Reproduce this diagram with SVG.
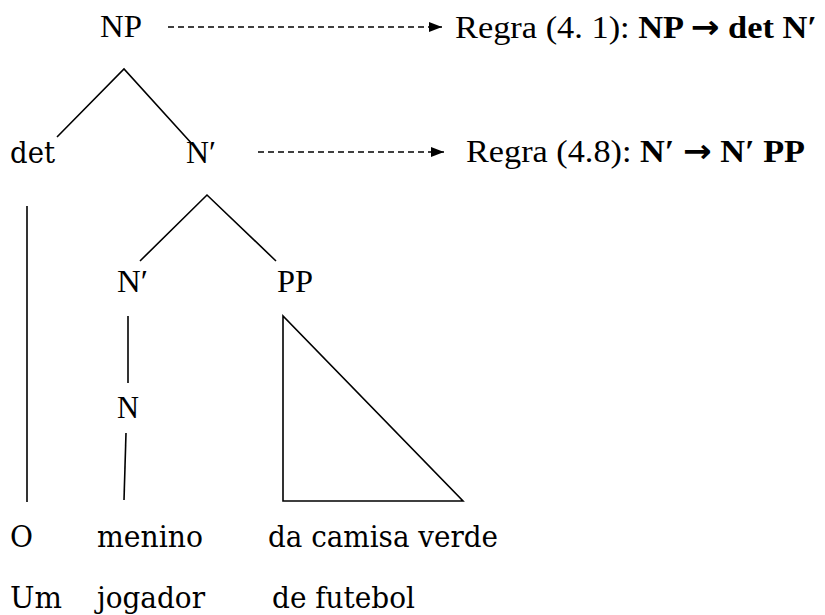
<svg xmlns="http://www.w3.org/2000/svg" width="825" height="615" viewBox="0 0 825 615">
<defs>
<style>
text{font-family:'Liberation Serif','Times New Roman',serif;font-size:32px;fill:#000}
.pal{font-family:'DejaVu Serif',serif;font-size:29px}
.b{font-weight:bold}
.ar{font-family:'DejaVu Sans',sans-serif;font-weight:bold}
.ln{stroke:#000;stroke-width:1.6;fill:none}
.dash{stroke:#000;stroke-width:1.6;fill:none;stroke-dasharray:6 4}
</style>
<marker id="ah" markerWidth="14" markerHeight="12" refX="13" refY="6" orient="auto" markerUnits="userSpaceOnUse">
<path d="M0,1 L13,6 L0,11 Z" fill="#000"/>
</marker>
</defs>
<rect width="825" height="615" fill="#fff"/>
<g id="connectors">
<path class="ln" d="M57,137 L124,69 L193,145"/>
<path class="ln" d="M140,261 L207,195 L276,261"/>
<path class="ln" d="M27,206 L27,502"/>
<path class="ln" d="M128,316 L128,383"/>
<path class="ln" d="M126,433 L124,500"/>
<path class="ln" d="M283,316 L283,501 L463,501 Z"/>
<path class="dash" d="M168,27 L442,27" marker-end="url(#ah)"/>
<path class="dash" d="M258,152 L444,152" marker-end="url(#ah)"/>
</g>
<g id="np"><text x="100" y="37" textLength="42" lengthAdjust="spacingAndGlyphs">NP</text></g>
<g id="rule1"><text x="455" y="38" textLength="362" lengthAdjust="spacingAndGlyphs">Regra (4. 1): <tspan class="b">NP </tspan><tspan class="ar">→</tspan><tspan class="b"> det N′</tspan></text></g>
<g id="det"><text class="pal" x="10" y="163" textLength="45" lengthAdjust="spacingAndGlyphs">det</text></g>
<g id="nbar1"><text x="186" y="163" textLength="30" lengthAdjust="spacingAndGlyphs">N′</text></g>
<g id="rule2"><text x="466" y="162" textLength="339" lengthAdjust="spacingAndGlyphs">Regra (4.8): <tspan class="b">N′ </tspan><tspan class="ar">→</tspan><tspan class="b"> N′ PP</tspan></text></g>
<g id="nbar2"><text x="117" y="292" textLength="31" lengthAdjust="spacingAndGlyphs">N′</text></g>
<g id="pp"><text x="277" y="292" textLength="36" lengthAdjust="spacingAndGlyphs">PP</text></g>
<g id="n"><text x="117" y="418" textLength="22" lengthAdjust="spacingAndGlyphs">N</text></g>
<g id="w-o"><text class="pal" x="10" y="547" textLength="23" lengthAdjust="spacingAndGlyphs">O</text></g>
<g id="w-menino"><text class="pal" x="97" y="547" textLength="106" lengthAdjust="spacingAndGlyphs">menino</text></g>
<g id="w-dacamisaverde"><text class="pal" x="268" y="547" textLength="230" lengthAdjust="spacingAndGlyphs">da camisa verde</text></g>
<g id="w-um"><text class="pal" x="10" y="608" textLength="52" lengthAdjust="spacingAndGlyphs">Um</text></g>
<g id="w-jogador"><text class="pal" x="97" y="608" textLength="108" lengthAdjust="spacingAndGlyphs">jogador</text></g>
<g id="w-defutebol"><text class="pal" x="272" y="608" textLength="143" lengthAdjust="spacingAndGlyphs">de futebol</text></g>
</svg>
